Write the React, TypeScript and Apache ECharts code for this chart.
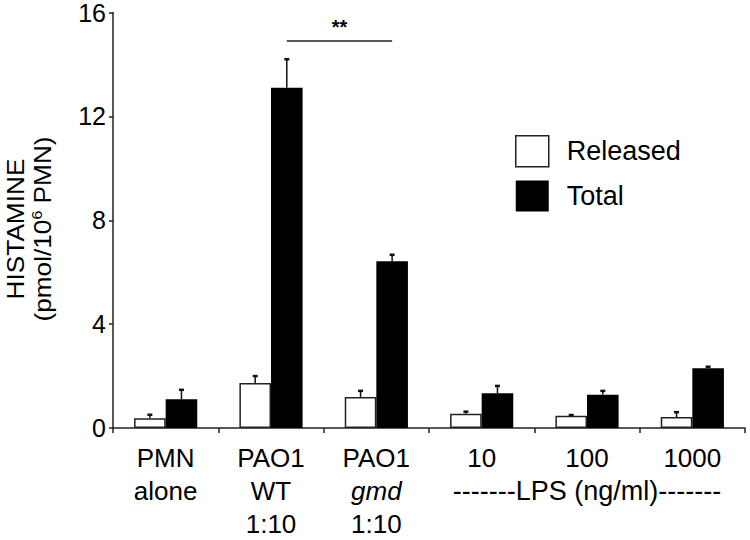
import React, { useEffect, useRef } from "react";
import * as echarts from "echarts";

const categories = ["PMN\nalone", "PAO1\nWT\n1:10", "PAO1\ngmd\n1:10", "10", "100", "1000"];
const italicWords = ["gmd"];
const lpsLabel = "-------LPS (ng/ml)-------";
const released = [0.38, 1.73, 1.19, 0.55, 0.47, 0.42];
const releasedErr = [0.13, 0.27, 0.24, 0.08, 0.03, 0.19];
const total = [1.11, 13.1, 6.42, 1.34, 1.28, 2.3];
const totalErr = [0.36, 1.1, 0.25, 0.28, 0.15, 0.06];
const yTicks = { min: 0, max: 16, interval: 4 };
const sigFrom = 1;
const sigTo = 2;
const sigLevel = 14.93;
const sigText = "**";

const FONT = "'Liberation Sans', Arial, sans-serif";

export default function App() {
  const ref = useRef<HTMLDivElement>(null);
  useEffect(() => {
    if (!ref.current) return;
    const chart = echarts.init(ref.current, null, { renderer: "svg" });
    const errData: any[] = [];
    released.forEach((v, i) => errData.push([i, v, releasedErr[i], 0]));
    total.forEach((v, i) => errData.push([i, v, totalErr[i], 1]));
    const BW = 0.3;
    chart.setOption({
      animation: false,
      backgroundColor: "#fff",
      textStyle: { fontFamily: FONT },
      grid: { left: 113, right: 5, top: 12, bottom: 111, containLabel: false },
      legend: {
        orient: "vertical",
        left: 515,
        top: 135,
        padding: 0,
        itemWidth: 33,
        itemHeight: 31,
        itemGap: 13,
        icon: "rect",
        textStyle: { fontSize: 27, lineHeight: 31, color: "#000", fontFamily: FONT, padding: [0, 0, 0, 13] },
        data: [
          { name: "Released", itemStyle: { color: "#fff", borderColor: "#222", borderWidth: 1.5 } },
          { name: "Total", itemStyle: { color: "#000", borderColor: "#000", borderWidth: 0 } },
        ],
      },
      xAxis: {
        type: "category",
        data: categories,
        axisLine: { lineStyle: { color: "#222", width: 1.5 } },
        axisTick: { show: true, length: 5, lineStyle: { color: "#222", width: 1.5 }, alignWithLabel: false },
        axisLabel: {
          interval: 0,
          margin: 13,
          fontSize: 26,
          lineHeight: 33,
          color: "#000",
          fontFamily: FONT,
          formatter: (val: string, idx: number) => {
            const lines = val
              .split("\n")
              .map((l) => (italicWords.includes(l) ? `{i|${l}}` : `{n|${l}}`));
            if (idx === 4) lines.push(`{l|${lpsLabel}}`);
            return lines.join("\n");
          },
          rich: {
            n: { fontSize: 26, lineHeight: 33, color: "#000", fontFamily: FONT },
            i: { fontStyle: "italic", fontSize: 26, lineHeight: 33, color: "#000", fontFamily: FONT },
            l: { fontSize: 27, lineHeight: 33, color: "#000", fontFamily: FONT },
          },
        },
      },
      yAxis: {
        type: "value",
        min: yTicks.min,
        max: yTicks.max,
        interval: yTicks.interval,
        splitLine: { show: false },
        axisLine: { show: true, lineStyle: { color: "#222", width: 1.5 } },
        axisTick: { show: true, length: 4, lineStyle: { color: "#222", width: 1.5 } },
        axisLabel: { fontSize: 25, color: "#000", margin: 7, fontFamily: FONT },
      },
      graphic: [
        {
          type: "text",
          x: 30,
          y: 229,
          rotation: Math.PI / 2,
          scaleX: 1.14,
          style: {
            text: "{a|HISTAMINE}\n{b|(pmol/10}{s|6}{b| PMN)}",
            align: "center",
            verticalAlign: "middle",
            rich: {
              a: { fontSize: 23, lineHeight: 27, fill: "#000", fontFamily: FONT },
              b: { fontSize: 23, lineHeight: 27, fill: "#000", fontFamily: FONT },
              s: { fontSize: 14, lineHeight: 18, verticalAlign: "top", fill: "#000", fontFamily: FONT },
            },
          },
        },
      ],
      series: [
        {
          name: "Released",
          type: "bar",
          data: released,
          barWidth: BW * 100 + "%",
          barGap: "0%",
          itemStyle: { color: "#fff", borderColor: "#222", borderWidth: 1.5 },
        },
        {
          name: "Total",
          type: "bar",
          data: total,
          barWidth: BW * 100 + "%",
          barGap: "0%",
          itemStyle: { color: "#000" },
          markLine: {
            silent: true,
            symbol: ["none", "none"],
            lineStyle: { color: "#222", width: 1.5, type: "solid" },
            label: {
              show: true,
              position: "insideMiddleTop",
              formatter: sigText,
              fontSize: 20,
              fontWeight: "bold",
              color: "#000",
              distance: 3,
            },
            data: [[{ coord: [sigFrom, sigLevel] }, { coord: [sigTo, sigLevel] }]],
          },
        },
        {
          name: "err",
          type: "custom",
          z: 5,
          silent: true,
          encode: { x: 0, y: 1 },
          data: errData,
          renderItem: (params: any, api: any) => {
            const ci = api.value(0);
            const v = api.value(1);
            const e = api.value(2);
            const side = api.value(3);
            const base = api.coord([ci, v]);
            const top = api.coord([ci, v + e]);
            const band = api.size([1, 0])[0];
            const bw = band * BW;
            const x = base[0] + (side === 0 ? -bw / 2 : bw / 2);
            return {
              type: "group",
              children: [
                { type: "line", shape: { x1: x, y1: base[1], x2: x, y2: top[1] }, style: { stroke: "#111", lineWidth: 1.5 } },
                { type: "line", shape: { x1: x - 2.5, y1: top[1], x2: x + 2.5, y2: top[1] }, style: { stroke: "#111", lineWidth: 2.5 } },
              ],
            };
          },
        },
      ],
    });
    return () => chart.dispose();
  }, []);
  return <div ref={ref} style={{ width: 750, height: 540, position: "absolute", left: 0, top: 0 }} />;
}
